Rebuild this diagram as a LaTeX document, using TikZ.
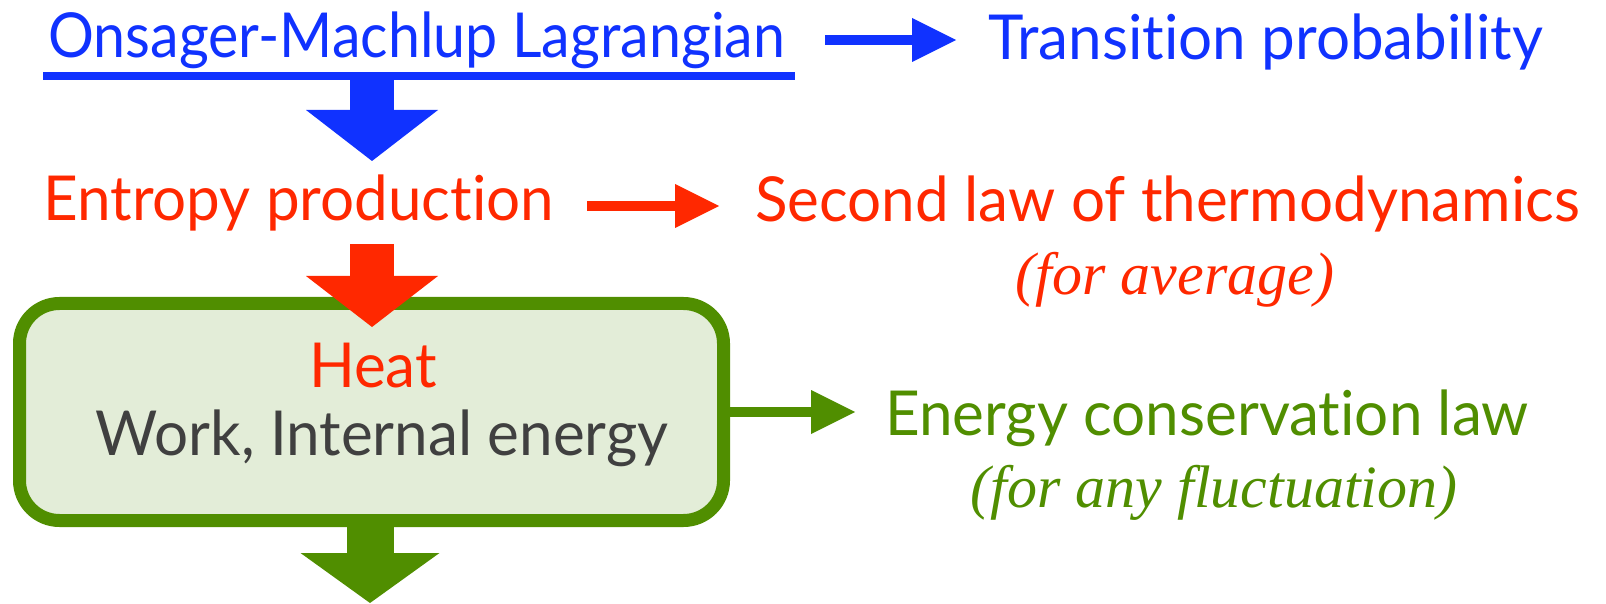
\documentclass[tikz,border=0pt]{standalone}
\usepackage{fontspec}
\setmainfont{Lato}[Ligatures=NoCommon, FakeStretch=0.97]
\newfontfamily\omfont{Lato}[Ligatures=NoCommon, FakeStretch=0.925]
\newfontfamily\notefont{Liberation Serif}
\usetikzlibrary{arrows.meta}

\definecolor{omblue}{RGB}{16,50,255}
\definecolor{epred}{RGB}{255,40,0}
\definecolor{ecgreen}{RGB}{80,142,0}
\definecolor{boxfill}{RGB}{227,237,216}
\definecolor{worktext}{RGB}{64,64,64}

\begin{document}
\begin{tikzpicture}[x=0.5pt,y=-0.5pt,
  label/.style={font=\fontsize{31}{36}\selectfont, inner sep=0pt, anchor=base west},
  note/.style={font=\fontsize{30}{34}\selectfont\notefont\itshape, inner sep=0pt, anchor=base},
  bigarrow/.style={line width=22pt, -{Triangle[length=25.5pt,width=66pt,line width=0pt]}},
  thinarrow/.style={line width=5pt, -{Triangle[length=22pt,width=22pt,line width=0pt]}}]
\useasboundingbox (0,0) rectangle (1606,604);

% top row
\node[label, text=omblue, font=\fontsize{31}{36}\selectfont\omfont] (om) at (48,58) {Onsager-Machlup Lagrangian};
\node[label, text=omblue] (tp) at (988,60) {Transition probability};
\draw[omblue, line width=4pt] ([shift={(-5,6)}]om.south west) -- ([shift={(9,6)}]om.south east);
\coordinate (tpin) at (956,40);
\draw[thinarrow, omblue] (825,40) -- (tpin);

% middle row
\node[label, text=epred] (ep) at (43,221) {Entropy production};
\node[label, text=epred] (sl) at (755,222) {Second law of thermodynamics};
\node[note, text=epred] (avg) at (1175,294) {(for average)};
\coordinate (omout) at (372,79);
\coordinate (epin) at (372,161);
\draw[bigarrow, omblue] (omout) -- (epin);
\coordinate (epout) at (587,206);
\coordinate (slin) at (719,206);
\draw[thinarrow, epred] (epout) -- (slin);

% box
\node[draw=ecgreen, fill=boxfill, line width=6.5pt, rounded corners=20pt,
  minimum width=352pt, minimum height=108.5pt] (box) at (371.5,412) {};
\node[label, anchor=base, text=epred] (heat) at (373,387) {Heat};
\node[label, anchor=base, text=worktext] (work) at (382,455) {Work, Internal energy};
\coordinate (epdown) at (372,244);
\coordinate (boxin) at (372,327);
\draw[bigarrow, epred] (epdown) -- (boxin);

% bottom row
\node[label, text=ecgreen] (ec) at (885,435) {Energy conservation law};
\node[note, text=ecgreen] (fluct) at (1214,507) {(for any fluctuation)};
\coordinate (ecin) at (855,412);
\draw[thinarrow, ecgreen] (box.east) -- (ecin);
\coordinate (boxout) at (370,603);
\draw[line width=23.5pt, ecgreen, -{Triangle[length=25pt,width=69.5pt,line width=0pt]}] (box.south -| boxout) -- (boxout);
\end{tikzpicture}
\end{document}
